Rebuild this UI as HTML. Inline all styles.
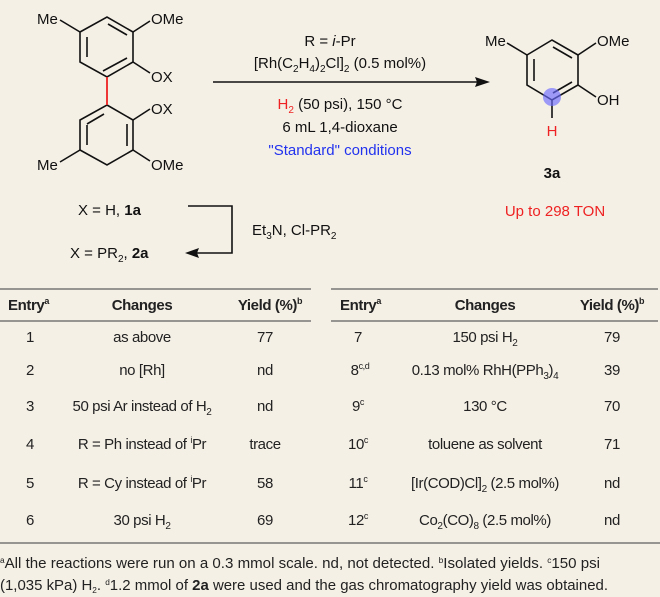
<!DOCTYPE html>
<html><head><meta charset="utf-8"><style>
html,body{margin:0;padding:0;background:#f5f0e6;}
svg{display:block;}
.s{font-family:"Liberation Sans",sans-serif;font-size:15px;fill:#111;}
.n{font-family:"Liberation Sans Narrow","Liberation Sans",sans-serif;font-size:15px;fill:#222;letter-spacing:-0.4px;}
.f{font-family:"Liberation Sans Narrow","Liberation Sans",sans-serif;font-size:14.5px;fill:#222;}
</style></head><body>
<svg width="660" height="597" viewBox="0 0 660 597" xmlns="http://www.w3.org/2000/svg">
<rect width="660" height="597" fill="#f5f0e6"/>
<g stroke="#111" stroke-width="1.6" fill="none">
<polygon points="80,32 107,17 133,32 133,62 107,77 80,62"/>
<line x1="87" y1="37" x2="87" y2="57"/>
<line x1="108" y1="24" x2="127" y2="35"/>
<line x1="103" y1="71" x2="127" y2="58"/>
<line x1="60" y1="20" x2="80" y2="32"/>
<line x1="133" y1="32" x2="150" y2="21"/>
<line x1="133" y1="62" x2="150" y2="73"/>
<polygon points="107,105 133,120 133,150 107,165 80,150 80,120"/>
<line x1="87" y1="125" x2="87" y2="145"/>
<line x1="127" y1="124" x2="127" y2="146"/>
<line x1="87" y1="124" x2="104" y2="114"/>
<line x1="60" y1="162" x2="80" y2="150"/>
<line x1="133" y1="120" x2="150" y2="109"/>
<line x1="133" y1="150" x2="150" y2="161"/>
<polygon points="527,55 552,40 578,55 578,85 552,100 527,85"/>
<line x1="534" y1="59" x2="534" y2="81"/>
<line x1="553" y1="47" x2="572" y2="58"/>
<line x1="553" y1="93" x2="572" y2="82"/>
<line x1="507" y1="43" x2="527" y2="55"/>
<line x1="578" y1="55" x2="596" y2="43"/>
<line x1="578" y1="85" x2="596" y2="97"/>
<line x1="552" y1="100" x2="552" y2="118"/>
<line x1="213" y1="82" x2="478" y2="82"/>
<polyline points="188,206 232,206 232,253 196,253"/>
</g>
<line x1="107" y1="77" x2="107" y2="105" stroke="#e22" stroke-width="1.8"/>
<polygon points="490,82 475,77 477,82 475,87" fill="#111"/>
<polygon points="185,253 199,248 197,253 199,258" fill="#111"/>
<circle cx="552" cy="97" r="9" fill="#6b6bff" fill-opacity="0.65"/>
<g class="s">
<text x="37" y="24">Me</text><text x="151" y="24">OMe</text>
<text x="151" y="82">OX</text><text x="151" y="114">OX</text>
<text x="37" y="170">Me</text><text x="151" y="170">OMe</text>
<text x="485" y="46">Me</text><text x="597" y="46">OMe</text>
<text x="597" y="105">OH</text>
<text x="552" y="136" text-anchor="middle" fill="#e22">H</text>
<text x="552" y="178" text-anchor="middle" font-weight="bold">3a</text>
<text x="555" y="216" text-anchor="middle" fill="#e22">Up to 298 TON</text>
<text x="330" y="46" text-anchor="middle">R = <tspan font-style="italic">i</tspan>-Pr</text>
<text x="340" y="68" text-anchor="middle">[Rh(C<tspan font-size="10" dy="4">2</tspan><tspan dy="-4">H</tspan><tspan font-size="10" dy="4">4</tspan><tspan dy="-4">)</tspan><tspan font-size="10" dy="4">2</tspan><tspan dy="-4">Cl]</tspan><tspan font-size="10" dy="4">2</tspan><tspan dy="-4"> (0.5 mol%)</tspan></text>
<text x="340" y="109" text-anchor="middle"><tspan fill="#e22">H<tspan font-size="10" dy="4">2</tspan></tspan><tspan dy="-4"> (50 psi), 150 °C</tspan></text>
<text x="340" y="132" text-anchor="middle">6 mL 1,4-dioxane</text>
<text x="340" y="155" text-anchor="middle" fill="#2233ee">"Standard" conditions</text>
<text x="78" y="215">X = H, <tspan font-weight="bold">1a</tspan></text>
<text x="70" y="258">X = PR<tspan font-size="10" dy="4">2</tspan><tspan dy="-4">, </tspan><tspan font-weight="bold">2a</tspan></text>
<text x="252" y="235">Et<tspan font-size="10" dy="4">3</tspan><tspan dy="-4">N, Cl-PR</tspan><tspan font-size="10" dy="4">2</tspan></text>
</g>
<g stroke="#777" stroke-width="1.5">
<line x1="0" y1="289" x2="311" y2="289"/><line x1="331" y1="289" x2="658" y2="289"/>
<line x1="0" y1="321" x2="311" y2="321"/><line x1="331" y1="321" x2="658" y2="321"/>
<line x1="0" y1="543" x2="660" y2="543"/>
</g>
<g class="n">
<text x="8" y="310" font-weight="bold">Entry<tspan font-size="9" dy="-6">a</tspan></text>
<text x="142" y="310" text-anchor="middle" font-weight="bold">Changes</text>
<text x="270" y="310" text-anchor="middle" font-weight="bold">Yield (%)<tspan font-size="9" dy="-6">b</tspan></text>
<text x="340" y="310" font-weight="bold">Entry<tspan font-size="9" dy="-6">a</tspan></text>
<text x="485" y="310" text-anchor="middle" font-weight="bold">Changes</text>
<text x="612" y="310" text-anchor="middle" font-weight="bold">Yield (%)<tspan font-size="9" dy="-6">b</tspan></text>
<g text-anchor="middle">
<text x="30" y="342">1</text><text x="142" y="342">as above</text><text x="265" y="342">77</text>
<text x="30" y="375">2</text><text x="142" y="375">no [Rh]</text><text x="265" y="375">nd</text>
<text x="30" y="411">3</text><text x="142" y="411">50 psi Ar instead of H<tspan font-size="10" dy="4">2</tspan></text><text x="265" y="411">nd</text>
<text x="30" y="449">4</text><text x="142" y="449">R = Ph instead of <tspan font-size="9" dy="-6">i</tspan><tspan dy="6">Pr</tspan></text><text x="265" y="449">trace</text>
<text x="30" y="488">5</text><text x="142" y="488">R = Cy instead of <tspan font-size="9" dy="-6">i</tspan><tspan dy="6">Pr</tspan></text><text x="265" y="488">58</text>
<text x="30" y="525">6</text><text x="142" y="525">30 psi H<tspan font-size="10" dy="4">2</tspan></text><text x="265" y="525">69</text>
<text x="358" y="342">7</text><text x="485" y="342">150  psi H<tspan font-size="10" dy="4">2</tspan></text><text x="612" y="342">79</text>
<text x="360" y="375">8<tspan font-size="9" dy="-6">c,d</tspan></text><text x="485" y="375">0.13 mol% RhH(PPh<tspan font-size="10" dy="4">3</tspan><tspan dy="-4">)</tspan><tspan font-size="10" dy="4">4</tspan></text><text x="612" y="375">39</text>
<text x="358" y="411">9<tspan font-size="9" dy="-6">c</tspan></text><text x="485" y="411">130 °C</text><text x="612" y="411">70</text>
<text x="358" y="449">10<tspan font-size="9" dy="-6">c</tspan></text><text x="485" y="449">toluene as solvent</text><text x="612" y="449">71</text>
<text x="358" y="488">11<tspan font-size="9" dy="-6">c</tspan></text><text x="485" y="488">[Ir(COD)Cl]<tspan font-size="10" dy="4">2</tspan><tspan dy="-4"> (2.5 mol%)</tspan></text><text x="612" y="488">nd</text>
<text x="358" y="525">12<tspan font-size="9" dy="-6">c</tspan></text><text x="485" y="525">Co<tspan font-size="10" dy="4">2</tspan><tspan dy="-4">(CO)</tspan><tspan font-size="10" dy="4">8</tspan><tspan dy="-4"> (2.5 mol%)</tspan></text><text x="612" y="525">nd</text>
</g>
</g>
<g class="f">
<text x="0" y="568" textLength="600" lengthAdjust="spacingAndGlyphs"><tspan font-size="8" dy="-5">a</tspan><tspan dy="5">All the reactions were run on a 0.3 mmol scale. nd, not detected. </tspan><tspan font-size="8" dy="-5">b</tspan><tspan dy="5">Isolated yields. </tspan><tspan font-size="8" dy="-5">c</tspan><tspan dy="5">150 psi</tspan></text>
<text x="0" y="590" textLength="608" lengthAdjust="spacingAndGlyphs">(1,035 kPa) H<tspan font-size="8" dy="3">2</tspan><tspan dy="-3">. </tspan><tspan font-size="8" dy="-5">d</tspan><tspan dy="5">1.2 mmol of </tspan><tspan font-weight="bold">2a</tspan> were used and the gas chromatography yield was obtained.</text>
</g>
</svg>
</body></html>
